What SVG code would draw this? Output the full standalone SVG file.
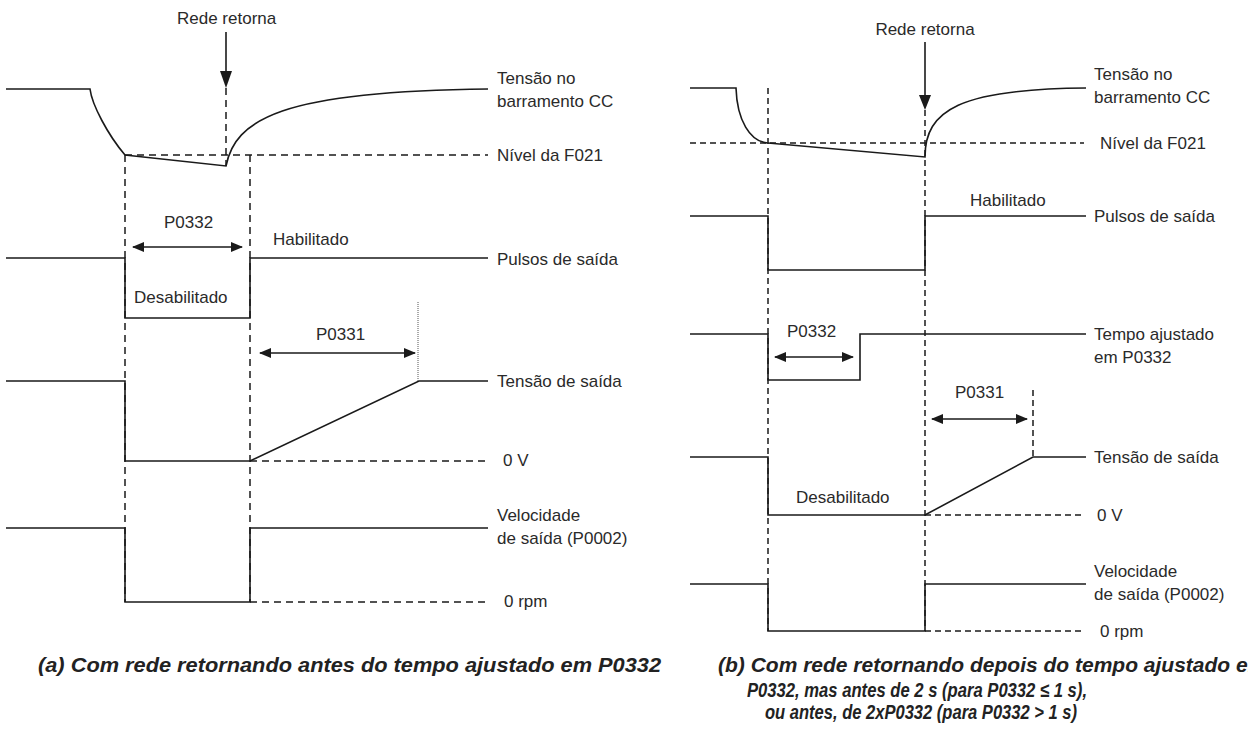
<svg xmlns="http://www.w3.org/2000/svg" width="1248" height="733" viewBox="0 0 1248 733">
<style>
.s{fill:none;stroke:#1a1a1a;stroke-width:1.6;stroke-linejoin:miter}
.d{fill:none;stroke:#1a1a1a;stroke-width:1.5;stroke-dasharray:7 5}
.dr{fill:none;stroke:#1a1a1a;stroke-width:1.5;stroke-dasharray:6 4}
.dot{fill:none;stroke:#555;stroke-width:1;stroke-dasharray:1 1}
.a{fill:none;stroke:#1a1a1a;stroke-width:1.6;marker-start:url(#ah);marker-end:url(#ah)}
.t{font-family:"Liberation Sans",Arial,sans-serif;font-size:17px;fill:#2a2a2a}
.c{font-family:"Liberation Sans",Arial,sans-serif;font-size:21px;font-style:italic;font-weight:bold;fill:#222}
.c2{font-family:"Liberation Sans",Arial,sans-serif;font-size:20px;font-style:italic;font-weight:bold;fill:#222}
.m{text-anchor:middle}
</style>
<defs>
<marker id="ah" viewBox="0 0 12 10" refX="11" refY="5" markerWidth="12" markerHeight="10" markerUnits="userSpaceOnUse" orient="auto-start-reverse">
<path d="M0,0 L12,5 L0,10 z" fill="#1a1a1a"/>
</marker>
</defs>

<g id="diagram-a">
<g id="a-bus">
<path class="s" d="M6,89 H90 C92,105 108,135 125,155 L226,166 C235,120 280,91 488,89"/>
<path class="d" d="M125,155 H488"/>
<text class="t" x="497" y="84">Tensão no</text>
<text class="t" x="497" y="107">barramento CC</text>
<text class="t" x="497" y="161">Nível da F021</text>
</g>
<g id="a-rede">
<text class="t" x="177" y="24">Rede retorna</text>
<path class="s" d="M226,32 V72"/>
<path d="M220,71 L232,71 L226,88 z" fill="#1a1a1a"/>
</g>
<g id="a-pulsos">
<path class="s" d="M6,258 H125 V318 H250 V258 H488"/>
<text class="t" x="497" y="265">Pulsos de saída</text>
<text class="t" x="273" y="245">Habilitado</text>
<text class="t" x="134" y="303">Desabilitado</text>
<text class="t" x="164" y="228">P0332</text>
</g>
<g id="a-tensao">
<path class="s" d="M6,381 H125 V461 H250 L419,381 H488"/>
<path class="d" d="M250,461 H488"/>
<path class="dot" d="M418,302 V381"/>
<text class="t" x="497" y="387">Tensão de saída</text>
<text class="t" x="503" y="466">0 V</text>
<text class="t" x="316" y="340">P0331</text>
</g>
<g id="a-velocidade">
<path class="s" d="M6,528 H125 V602 H250 V528 H488"/>
<path class="d" d="M250,602 H488"/>
<text class="t" x="497" y="521">Velocidade</text>
<text class="t" x="497" y="544">de saída (P0002)</text>
<text class="t" x="504" y="607">0 rpm</text>
</g>
<text id="caption-a" class="c" x="38" y="672" textLength="623" lengthAdjust="spacingAndGlyphs">(a) Com rede retornando antes do tempo ajustado em P0332</text>
</g>

<g id="diagram-b">
<g id="b-bus">
<path class="s" d="M690,88 H736 C737,120 750,142 768,143 L925,157 C925,110 960,89 1086,88"/>
<path class="dr" d="M690,143 H1084"/>
<text class="t" x="1094" y="80">Tensão no</text>
<text class="t" x="1094" y="103">barramento CC</text>
<text class="t" x="1100" y="149">Nível da F021</text>
</g>
<g id="b-rede">
<text class="t m" x="925" y="35">Rede retorna</text>
<path class="s" d="M925,42 V96"/>
<path d="M919,95 L931,95 L925,110 z" fill="#1a1a1a"/>
</g>
<g id="b-pulsos">
<path class="s" d="M690,216 H768 V270 H925 V216 H1086"/>
<text class="t" x="970" y="206">Habilitado</text>
<text class="t" x="1094" y="222">Pulsos de saída</text>
</g>
<g id="b-tempo">
<path class="s" d="M690,334 H768 V380 H860 V334 H1086"/>
<text class="t" x="1094" y="340">Tempo ajustado</text>
<text class="t" x="1094" y="363">em P0332</text>
<text class="t" x="787" y="337">P0332</text>
</g>
<g id="b-tensao">
<path class="s" d="M690,457 H768 V515 H925 L1033,457 H1086"/>
<path class="dr" d="M925,515 H1084"/>
<path class="dr" d="M1033,390 V457"/>
<text class="t" x="955" y="398">P0331</text>
<text class="t" x="1094" y="463">Tensão de saída</text>
<text class="t" x="796" y="503">Desabilitado</text>
<text class="t" x="1097" y="521">0 V</text>
</g>
<g id="b-velocidade">
<path class="s" d="M690,584 H768 V631 H925 V584 H1086"/>
<path class="dr" d="M925,631 H1084"/>
<text class="t" x="1094" y="577">Velocidade</text>
<text class="t" x="1094" y="600">de saída (P0002)</text>
<text class="t" x="1100" y="637">0 rpm</text>
</g>
<g id="caption-b">
<text class="c" x="718" y="672">(b) Com rede retornando depois do tempo ajustado em</text>
<text class="c2" x="747" y="697" textLength="340" lengthAdjust="spacingAndGlyphs">P0332, mas antes de 2 s (para P0332 ≤ 1 s),</text>
<text class="c2" x="765" y="719" textLength="312" lengthAdjust="spacingAndGlyphs">ou antes, de 2xP0332 (para P0332 &gt; 1 s)</text>
</g>
</g>

<g id="connectors">
<path class="d" d="M125,155 V602"/>
<path class="d" d="M250,155 V602"/>
<path class="d" d="M226,88 V166"/>
<path class="a" d="M133,247 H242"/>
<path class="a" d="M260,353 H415"/>
<path class="dr" d="M768,88 V631"/>
<path class="dr" d="M925,110 V631"/>
<path class="a" d="M775,357 H853"/>
<path class="a" d="M932,419 H1027"/>
</g>
</svg>
